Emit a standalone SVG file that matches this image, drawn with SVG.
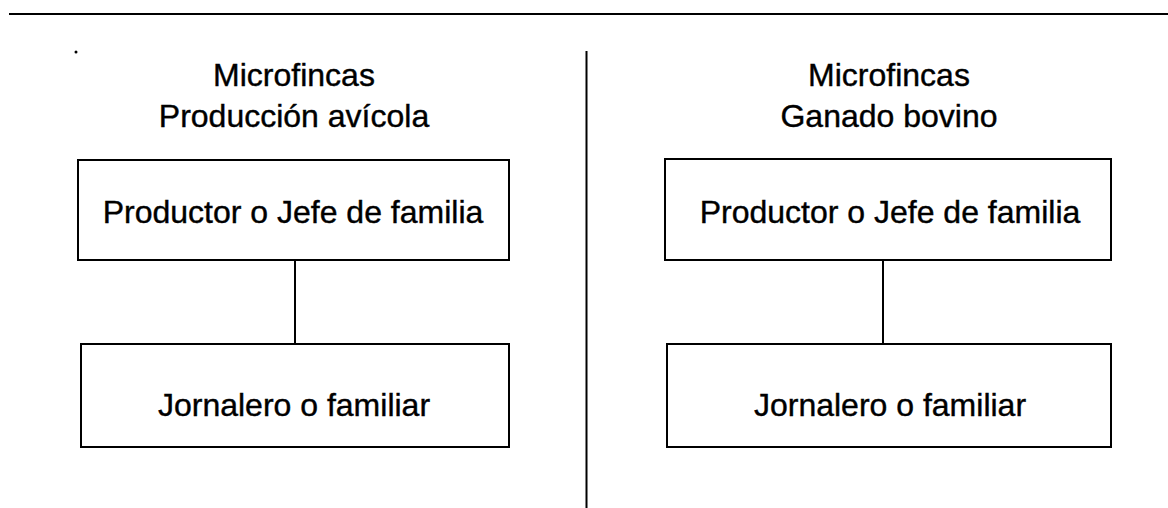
<svg xmlns="http://www.w3.org/2000/svg" width="1168" height="508" viewBox="0 0 1168 508">
<style>
.box{fill:#fff;stroke:#000;stroke-width:2}
.ln{stroke:#000;stroke-width:2;fill:none}
text{font-family:"Liberation Sans",Arial,sans-serif;font-size:32px;fill:#000;stroke:#000;stroke-width:0.4;text-anchor:middle}
</style>
<rect width="1168" height="508" fill="#fff"/>
<g id="frame">
<line class="ln" x1="9" y1="14" x2="1168" y2="14" stroke-width="2.5"/>
<line class="ln" x1="586.5" y1="51" x2="586.5" y2="508"/>
<circle cx="76" cy="52" r="1.5" fill="#000"/>
</g>
<g id="title-left">
<text x="294" y="86">Microfincas</text>
<text x="294" y="127">Producción avícola</text>
</g>
<g id="title-right">
<text x="889" y="86">Microfincas</text>
<text x="889" y="127">Ganado bovino</text>
</g>
<g id="connectors">
<line class="ln" x1="295" y1="260" x2="295" y2="344"/>
<line class="ln" x1="883" y1="260" x2="883" y2="344"/>
</g>
<g id="left-productor">
<rect class="box" x="78" y="160" width="431" height="100"/>
<text x="293" y="223">Productor o Jefe de familia</text>
</g>
<g id="left-jornalero">
<rect class="box" x="81" y="344" width="428" height="103"/>
<text x="294" y="416">Jornalero o familiar</text>
</g>
<g id="right-productor">
<rect class="box" x="665" y="159" width="446" height="101"/>
<text x="890" y="223">Productor o Jefe de familia</text>
</g>
<g id="right-jornalero">
<rect class="box" x="667" y="344" width="444" height="103"/>
<text x="890" y="416">Jornalero o familiar</text>
</g>
</svg>
